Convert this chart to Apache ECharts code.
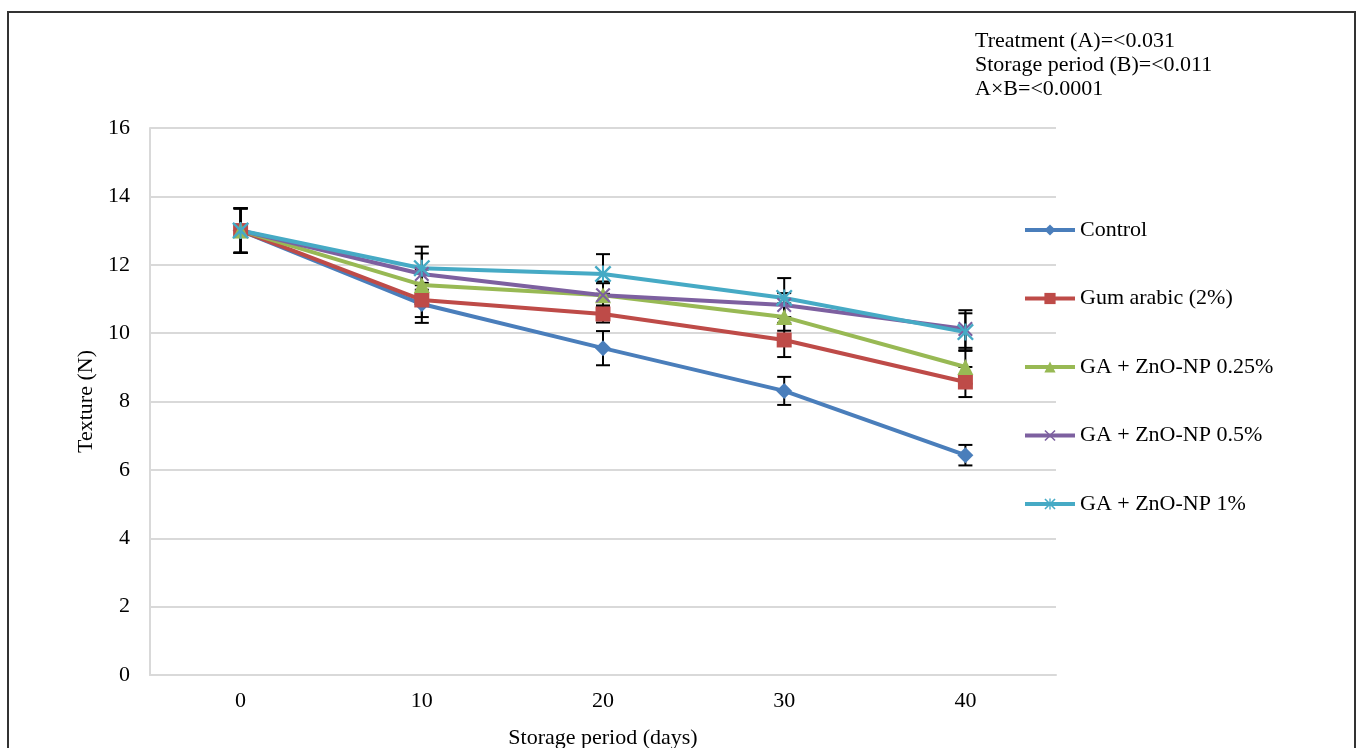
<!DOCTYPE html>
<html>
<head>
<meta charset="utf-8">
<title>Texture during storage</title>
<script src="https://cdn.jsdelivr.net/npm/echarts@6/dist/echarts.min.js"></script>
<style>
  html, body { margin: 0; padding: 0; background: #ffffff; }
  #chart { width: 1360px; height: 748px; }
</style>
</head>
<body>
<div id="chart"></div>
<script>
// Storage days on the category axis
const days = ['0', '10', '20', '30', '40'];

// Mean texture (N) per treatment
const seriesNames = ['Control', 'Gum arabic (2%)', 'GA + ZnO-NP 0.25%', 'GA + ZnO-NP 0.5%', 'GA + ZnO-NP 1%'];
const control    = [13.0, 10.85, 9.56, 8.31, 6.43];
const gumArabic  = [13.0, 10.97, 10.56, 9.80, 8.57];
const ga025      = [13.0, 11.41, 11.11, 10.47, 9.01];
const ga05       = [13.0, 11.73, 11.11, 10.82, 10.12];
const ga1        = [13.0, 11.90, 11.73, 11.03, 10.03];

// Standard error (±) per treatment
const errControl = [0.65, 0.55, 0.50, 0.41, 0.30];
const errGum     = [0.65, 0.50, 0.25, 0.50, 0.44];
const errGa025   = [0.65, 0.45, 0.35, 0.40, 0.49];
const errGa05    = [0.65, 0.60, 0.40, 0.35, 0.55];
const errGa1     = [0.65, 0.63, 0.58, 0.58, 0.55];

// Y axis ticks
const yMin = 0, yMax = 16, yStep = 2;

const means = [control, gumArabic, ga025, ga05, ga1];
const errs  = [errControl, errGum, errGa025, errGa05, errGa1];
const colors = ['#4A7EBB', '#BE4B48', '#98B954', '#7D60A0', '#46AAC5'];

const crossPath = 'path://M0,1L1,0L10,9L9,10ZM9,0L10,1L1,10L0,9Z';
const starPath  = 'path://M0,1L1,0L10,9L9,10ZM9,0L10,1L1,10L0,9ZM4.4,0L5.6,0L5.6,10L4.4,10Z';
const symbols = ['diamond', 'rect', 'triangle', crossPath, starPath];
const symbolSizes = [16, 15, 16, [15, 15], [17, 17]];

const FONT = '"Liberation Serif", "Times New Roman", serif';
const FS = 22;

// Error bars: one item per (series, day) as [dayIndex, low, high]
const errorData = [];
means.forEach((m, s) => {
  m.forEach((v, i) => {
    errorData.push([i, v - errs[s][i], v + errs[s][i]]);
  });
});

const lineSeries = seriesNames.map((name, s) => ({
  name: name,
  type: 'line',
  data: means[s],
  symbol: symbols[s],
  symbolSize: symbolSizes[s],
  showAllSymbol: true,
  z: 3,
  lineStyle: { color: colors[s], width: 4 },
  itemStyle: { color: colors[s], borderColor: colors[s], borderWidth: 0 },
  emphasis: { disabled: true },
  animation: false
}));

const errorSeries = {
  type: 'custom',
  name: 'error',
  z: 2,
  data: errorData,
  encode: { x: 0, y: [1, 2] },
  renderItem: function (params, api) {
    const x = api.value(0);
    const lo = api.coord([x, api.value(1)]);
    const hi = api.coord([x, api.value(2)]);
    const half = 7;
    const style = { stroke: '#000000', lineWidth: 2, fill: null };
    return {
      type: 'group',
      children: [
        { type: 'line', shape: { x1: lo[0], y1: lo[1], x2: hi[0], y2: hi[1] }, style: style },
        { type: 'line', shape: { x1: lo[0] - half, y1: lo[1], x2: lo[0] + half, y2: lo[1] }, style: style },
        { type: 'line', shape: { x1: hi[0] - half, y1: hi[1], x2: hi[0] + half, y2: hi[1] }, style: style }
      ]
    };
  },
  silent: true,
  animation: false
};

const chart = echarts.init(document.getElementById('chart'), null, { renderer: 'canvas' });

chart.setOption({
  backgroundColor: '#ffffff',
  animation: false,
  textStyle: { fontFamily: FONT },
  grid: { left: 150, right: 304, top: 128, bottom: 73, containLabel: false, outerBoundsMode: 'none' },
  legend: {
    data: seriesNames,
    orient: 'vertical',
    left: 1023,
    top: 219,
    padding: 0,
    itemWidth: 50,
    itemHeight: 14,
    itemGap: 46.5,
    selectedMode: false,
    lineStyle: { width: 4 },
    textStyle: { fontFamily: FONT, fontSize: FS, color: '#000000', lineHeight: 22 }
  },
  xAxis: {
    type: 'category',
    data: days,
    boundaryGap: true,
    name: 'Storage period (days)',
    nameLocation: 'middle',
    nameGap: 52,
    nameTextStyle: { fontFamily: FONT, fontSize: FS, color: '#000000' },
    axisLine: { show: true, lineStyle: { color: '#d9d9d9', width: 2 } },
    axisTick: { show: false },
    axisLabel: { fontFamily: FONT, fontSize: FS, color: '#000000', margin: 15 },
    splitLine: { show: false }
  },
  yAxis: {
    type: 'value',
    min: yMin,
    max: yMax,
    interval: yStep,
    name: 'Texture (N)',
    nameLocation: 'middle',
    nameGap: 46,
    nameRotate: 90,
    nameTextStyle: { fontFamily: FONT, fontSize: FS, color: '#000000' },
    axisLine: { show: true, lineStyle: { color: '#d9d9d9', width: 2 } },
    axisTick: { show: false },
    axisLabel: { fontFamily: FONT, fontSize: FS, color: '#000000', margin: 20 },
    splitLine: { show: true, lineStyle: { color: '#d9d9d9', width: 2 } }
  },
  graphic: [
    {
      type: 'rect',
      shape: { x: 8, y: 12, width: 1347, height: 760 },
      style: { fill: null, stroke: '#333333', lineWidth: 2 },
      silent: true,
      z: 10
    },
    {
      type: 'text',
      left: 975,
      top: 29,
      style: {
        text: 'Treatment (A)=<0.031\nStorage period (B)=<0.011\nA×B=<0.0001',
        font: FS + 'px ' + FONT,
        fill: '#000000',
        lineHeight: 24
      },
      silent: true
    }
  ],
  series: [errorSeries].concat(lineSeries)
});
</script>
</body>
</html>
